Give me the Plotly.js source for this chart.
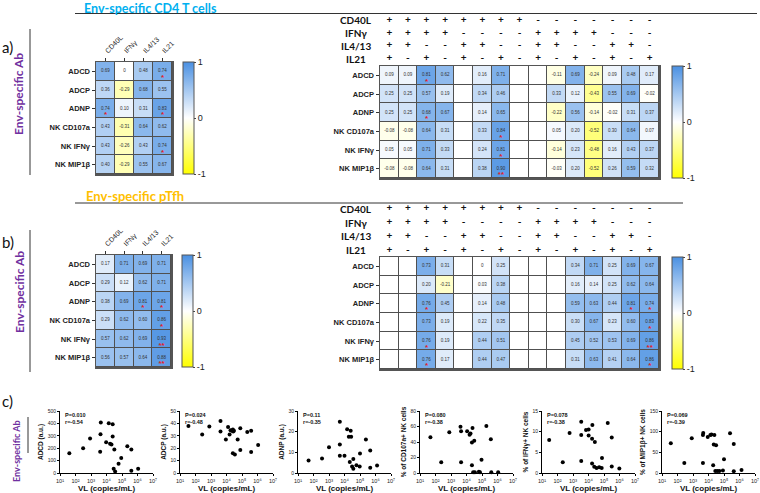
<!DOCTYPE html>
<html><head><meta charset="utf-8">
<script src="https://cdn.plot.ly/plotly-3.0.1.min.js"></script>
<style>html,body{margin:0;padding:0;background:#fff}#chart{width:760px;height:493px}</style>
</head><body><div id="chart"></div>
<script>
const W=760,H=493;
const px=v=>v/W, py=v=>1-v/H;

const abRows=["ADCD","ADCP","ADNP","NK CD107a","NK IFNγ","NK MIP1β"];
const rowIdx=[0,1,2,3,4,5];
const cytokines=["CD40L","IFNγ","IL4/13","IL21"];
const signCD40L=["+","+","+","+","+","+","+","+","-","-","-","-","-","-","-"];
const signIFNg =["+","+","+","+","-","-","-","-","+","+","+","+","-","-","-"];
const signIL413=["+","+","-","-","+","+","-","-","+","+","-","-","+","+","-"];
const signIL21 =["+","-","+","-","+","-","+","-","+","-","+","-","+","-","+"];
const comboIdx=[0,1,2,3,4,5,6,7,8,9,10,11,12,13,14];

// a) Env-specific CD4 T cells
const cd4Single=[[0.69,0,0.48,0.74],[0.36,-0.29,0.68,0.55],[0.74,0.10,0.31,0.83],[0.43,-0.31,0.64,0.62],[0.43,-0.26,0.43,0.74],[0.40,-0.29,0.55,0.67]];
const cd4SingleSig=[[0,0,0,1],[0,0,0,0],[1,0,0,1],[0,0,0,0],[0,0,0,1],[0,0,0,0]];
const cd4Combo=[
 [0.09,0.09,0.81,0.62,null,0.16,0.71,null,null,-0.11,0.69,-0.24,0.09,0.48,0.17],
 [0.25,0.25,0.57,0.19,null,0.34,0.46,null,null,0.33,0.12,-0.43,0.55,0.69,-0.02],
 [0.25,0.25,0.68,0.67,null,0.14,0.65,null,null,-0.22,0.56,-0.14,-0.02,0.31,0.37],
 [-0.08,-0.08,0.64,0.31,null,0.33,0.84,null,null,0.05,0.20,-0.52,0.30,0.64,0.07],
 [0.05,0.05,0.71,0.33,null,0.24,0.81,null,null,-0.14,0.23,-0.48,0.16,0.43,0.37],
 [-0.08,-0.08,0.64,0.31,null,0.38,0.90,null,null,-0.03,0.20,-0.52,0.26,0.59,0.32]];
const cd4ComboSig=[
 [0,0,1,0,0,0,0,0,0,0,0,0,0,0,0],
 [0,0,0,0,0,0,0,0,0,0,0,0,0,0,0],
 [0,0,1,0,0,0,0,0,0,0,0,0,0,0,0],
 [0,0,0,0,0,0,1,0,0,0,0,0,0,0,0],
 [0,0,0,0,0,0,1,0,0,0,0,0,0,0,0],
 [0,0,0,0,0,0,2,0,0,0,0,0,0,0,0]];

// b) Env-specific pTfh
const tfhSingle=[[0.17,0.71,0.69,0.71],[0.29,0.12,0.62,0.71],[0.38,0.69,0.81,0.81],[0.29,0.62,0.60,0.86],[0.57,0.62,0.69,0.93],[0.56,0.57,0.64,0.88]];
const tfhSingleSig=[[0,0,0,0],[0,0,0,0],[0,0,1,1],[0,0,0,1],[0,0,0,2],[0,0,0,2]];
const tfhCombo=[
 [null,null,0.73,0.31,null,0,0.25,null,null,null,0.34,0.71,0.25,0.69,0.67],
 [null,null,0.20,-0.21,null,0.03,0.38,null,null,null,0.16,0.14,0.25,0.62,0.64],
 [null,null,0.76,0.45,null,0.14,0.48,null,null,null,0.59,0.63,0.44,0.81,0.74],
 [null,null,0.73,0.19,null,0.22,0.35,null,null,null,0.30,0.67,0.23,0.60,0.83],
 [null,null,0.76,0.19,null,0.44,0.51,null,null,null,0.45,0.52,0.53,0.69,0.86],
 [null,null,0.76,0.17,null,0.44,0.47,null,null,null,0.31,0.63,0.41,0.64,0.86]];
const tfhComboSig=[
 [0,0,0,0,0,0,0,0,0,0,0,0,0,0,0],
 [0,0,0,0,0,0,0,0,0,0,0,0,0,0,0],
 [0,0,1,0,0,0,0,0,0,0,0,0,0,1,1],
 [0,0,0,0,0,0,0,0,0,0,0,0,0,0,1],
 [0,0,1,0,0,0,0,0,0,0,0,0,0,0,2],
 [0,0,1,0,0,0,0,0,0,0,0,0,0,0,1]];

// c) scatter: VL (copies/mL) vs Ab function
const scatterTitles=["ADCD (a.u.)","ADCP (a.u.)","ADNP (a.u.)","% of CD107a+ NK cells","% of IFNγ+ NK cells","% of MIP1β+ NK cells"];
const scatterStats=["P=0.010<br>r=-0.54","P=0.024<br>r=-0.48","P=0.11<br>r=-0.35","P=0.080<br>r=-0.38","P=0.078<br>r=-0.38","P=0.069<br>r=-0.39"];
const vlADCD=[40,310,870,4300,4100,3900,9500,14000,17000,21000,25000,25000,32000,29000,36000,60000,89000,220000,400000,400000,1100000];
const yADCD=[160,200,278,408,312,172,248,402,235,230,393,295,190,35,12,75,120,215,190,18,35];
const vlADCP=[35,270,780,4100,4100,9100,12600,15800,18200,22400,25700,26900,30200,25700,34700,52500,77600,77600,219000,389000,389000,1100000];
const yADCP=[38,31,37.5,42,33.5,27,37,31,34.5,34,35,33.5,34,16,15,27,18.5,36,33,34,17,22.5];
const vlADNP=[48,355,1000,5000,5000,5000,10000,14800,19000,25100,26900,21900,30900,37200,37200,58900,95500,100000,240000,457000,457000,1260000];
const yADNP=[6.0,7.0,12.5,24.8,13.8,8.4,8.4,21.2,17.5,20.4,17.5,5.3,3.1,2.1,6.8,3.7,3.2,9.4,16.2,10.9,2.6,3.6];
const vlCD107a=[47,234,776,4100,4470,4470,11000,15800,18200,22400,24500,31600,22400,26900,34700,63100,74100,93300,191000,372000,398000,1100000];
const yCD107a=[46,13.8,52.5,59.7,54,13.8,54,49.4,51,39.4,58,41.5,10,1,1,1.5,1,17,60.6,43.7,1,1];
const vlIFNg=[29,219,603,3390,3390,3390,6920,10200,10200,17800,17000,25700,17000,23400,33100,49000,70800,74100,174000,316000,316000,977000];
const yIFNg=[8.0,2.6,9.7,12.4,9.2,2.9,10.4,10.5,9.1,11.6,8.3,7.5,2.3,1.5,1.2,1.4,1.2,3.6,12.1,8.6,1.6,1.1];
const vlMIP1b=[37,275,832,4570,4370,4370,8910,13200,15500,24000,21900,30900,20000,27500,37200,50100,85100,100000,245000,427000,427000,1350000];
const yMIP1b=[72,24,84,97,92,24,87,92,93,92,69,67,19,5,5,5,6,33,96,70,4,7];
const scatterX=[vlADCD,vlADCP,vlADNP,vlCD107a,vlIFNg,vlMIP1b];
const scatterY=[yADCD,yADCP,yADNP,yCD107a,yIFNg,yMIP1b];
const scatterMax=[500,50,30,80,15,150];
const scatterDtick=[100,10,10,20,5,50];
const vlTickVals=[1e1,1e2,1e3,1e4,1e5,1e6,1e7];
const vlTickText=["10¹","10²","10³","10⁴","10⁵","10⁶","10⁷"];

const colorscale=[[0,'#ffff00'],[0.5,'#ffffff'],[1,'#4a90e2']];
const GRID='#505050';
const LAB='Liberation Sans, Arial, sans-serif';
const CAL='Lato, Open Sans, sans-serif';
const STAR_DY=0.36; // vertical offset of asterisks inside a cell (in rows)

function fmt(v){return v===0?'0':v.toFixed(2);}
function heatTraces(z,sig,xs,xa,ya,cb){
  const base={type:'heatmap',x:xs,y:rowIdx,xaxis:xa,yaxis:ya,showscale:false,hoverinfo:'skip'};
  const zeros=z.map(r=>r.map(()=>0));
  const dark=Object.assign({},base,{z:zeros,colorscale:[[0,GRID],[1,GRID]],zmin:0,zmax:1});
  const white=Object.assign({},base,{z:zeros,colorscale:[[0,'#ffffff'],[1,'#ffffff']],zmin:0,zmax:1,xgap:1,ygap:1});
  const data={type:'heatmap',x:xs,y:rowIdx,z:z,xaxis:xa,yaxis:ya,zmin:-1,zmax:1,colorscale:colorscale,
    xgap:1,ygap:1,hoverongaps:false,showscale:true,colorbar:cb};
  const nx=[],ny=[],nt=[],sx=[],sy=[],st=[];
  z.forEach((row,i)=>row.forEach((v,j)=>{
    if(v===null) return;
    nx.push(xs[j]);ny.push(rowIdx[i]);nt.push(fmt(v));
    if(sig[i][j]){sx.push(xs[j]);sy.push(rowIdx[i]+STAR_DY);st.push('*'.repeat(sig[i][j]));}
  }));
  const nums={type:'scatter',mode:'text',x:nx,y:ny,text:nt,xaxis:xa,yaxis:ya,textposition:'middle center',
    textfont:{size:4.5,color:'#333',family:LAB},hoverinfo:'skip',showlegend:false,cliponaxis:false};
  const stars={type:'scatter',mode:'text',x:sx,y:sy,text:st,xaxis:xa,yaxis:ya,textposition:'middle center',
    textfont:{size:8,color:'#e32129',family:LAB,weight:'bold'},hoverinfo:'skip',showlegend:false,cliponaxis:false};
  return [dark,white,data,nums,stars];
}
function cbar(left,top){
  return {x:px(left),xanchor:'left',y:py(top),yanchor:'top',len:112,lenmode:'pixels',thickness:11,thicknessmode:'pixels',
    outlinewidth:1,outlinecolor:'#555',tickvals:[-1,0,1],ticktext:['-1','0','1'],ticks:'outside',ticklen:2,
    tickfont:{size:9,family:LAB,color:'#222'},xpad:0,ypad:0};
}
function headerTrace(xa,ya){
  const signs=[signCD40L,signIFNg,signIL413,signIL21];
  const xs=[],ys=[],ts=[];
  signs.forEach((row,r)=>row.forEach((s,c)=>{xs.push(comboIdx[c]);ys.push(r);ts.push(s);}));
  return {type:'scatter',mode:'text',x:xs,y:ys,text:ts,xaxis:xa,yaxis:ya,cliponaxis:false,hoverinfo:'skip',
    textfont:{size:10,family:CAL,color:'#111',weight:'bold'},showlegend:false};
}

const traces=[];
traces.push(...heatTraces(cd4Single,cd4SingleSig,cytokines,'x','y',cbar(183,62)));
traces.push(...heatTraces(cd4Combo,cd4ComboSig,comboIdx,'x2','y2',cbar(672,66)));
traces.push(headerTrace('x3','y3'));
traces.push(...heatTraces(tfhSingle,tfhSingleSig,cytokines,'x4','y4',cbar(182,255)));
traces.push(...heatTraces(tfhCombo,tfhComboSig,comboIdx,'x5','y5',cbar(672,257)));
traces.push(headerTrace('x6','y6'));
for(let i=0;i<6;i++){
  traces.push({type:'scatter',mode:'markers',x:scatterX[i],y:scatterY[i],xaxis:'x'+(7+i),yaxis:'y'+(7+i),
    marker:{color:'#000',size:4},hoverinfo:'x+y',showlegend:false,cliponaxis:false});
}

const layout={width:W,height:H,margin:{l:0,r:0,t:0,b:0},paper_bgcolor:'#fff',plot_bgcolor:'rgba(0,0,0,0)',
  showlegend:false,font:{family:LAB,color:'#222'},annotations:[],shapes:[]};

function rowAxis(xn,yn,y0,y1){
  return {domain:[py(y1),py(y0)],anchor:'x'+xn,range:[5.5,-0.5],tickvals:rowIdx,ticktext:abRows,ticks:'outside',ticklen:3,tickcolor:'#333',
    tickfont:{size:7.5,family:LAB,color:'#222',weight:'bold'},showline:true,mirror:true,linecolor:'#555',linewidth:1.5,showgrid:false,zeroline:false,fixedrange:true};
}
function leftHeatAxes(xn,yn,x0,x1,y0,y1){
  layout['xaxis'+xn]={domain:[px(x0),px(x1)],anchor:'y'+yn,side:'top',tickangle:-45,ticks:'outside',ticklen:3,tickcolor:'#333',
    tickfont:{size:7,family:LAB,color:'#222'},showline:true,mirror:true,linecolor:'#555',linewidth:1.5,showgrid:false,zeroline:false,fixedrange:true};
  layout['yaxis'+yn]=rowAxis(xn,yn,y0,y1);
}
function rightHeatAxes(xn,yn,hx,hy,y0,y1,h0,h1){
  layout['xaxis'+xn]={domain:[px(380),px(659)],anchor:'y'+yn,range:[-0.5,14.5],showticklabels:false,ticks:'',
    showline:true,mirror:true,linecolor:'#555',linewidth:1.5,showgrid:false,zeroline:false,fixedrange:true};
  layout['yaxis'+yn]=rowAxis(xn,yn,y0,y1);
  layout['xaxis'+hx]={domain:[px(380),px(659)],anchor:'y'+hy,range:[-0.5,14.5],visible:false,fixedrange:true};
  layout['yaxis'+hy]={domain:[py(h1),py(h0)],anchor:'x'+hx,range:[3.5,-0.5],visible:false,fixedrange:true};
  cytokines.forEach((c,r)=>layout.annotations.push({text:c,x:px(356),xref:'paper',y:r,yref:'y'+hy,showarrow:false,
    xanchor:'center',yanchor:'middle',font:{size:10,family:CAL,color:'#111',weight:'bold'}}));
}
leftHeatAxes('','',96,172,62,174);
rightHeatAxes(2,2,3,3,66,178,14,65);
leftHeatAxes(4,4,96,171,255,367);
rightHeatAxes(5,5,6,6,257,369,202,257);

const scatterLeft=[60,180,298,420,542,662];
for(let i=0;i<6;i++){
  const n=7+i;
  layout['xaxis'+n]={domain:[px(scatterLeft[i]),px(scatterLeft[i]+93)],anchor:'y'+n,type:'log',range:[1,7],
    tickvals:vlTickVals,ticktext:vlTickText,ticks:'outside',ticklen:2,tickcolor:'#000',tickfont:{size:5.5,family:LAB,color:'#222'},
    showline:true,linecolor:'#000',linewidth:1,showgrid:false,zeroline:false,fixedrange:true,
    title:{text:'VL (copies/mL)',font:{size:8,family:LAB,color:'#111',weight:'bold'},standoff:2}};
  layout['yaxis'+n]={domain:[py(473),py(411)],anchor:'x'+n,range:[0,scatterMax[i]],dtick:scatterDtick[i],ticks:'outside',ticklen:2,tickcolor:'#000',
    tickfont:{size:5,family:LAB,color:'#222'},showline:true,linecolor:'#000',linewidth:1,showgrid:false,zeroline:false,fixedrange:true,
    title:{text:scatterTitles[i],font:{size:6.5,family:LAB,color:'#111',weight:'bold'},standoff:3}};
  layout.annotations.push({text:scatterStats[i],x:px(scatterLeft[i]+3),xref:'paper',y:py(410),yref:'paper',xanchor:'left',yanchor:'top',
    align:'left',showarrow:false,font:{size:5.5,family:LAB,color:'#111',weight:'bold'}});
}

const ann=(t,x,y,o)=>layout.annotations.push(Object.assign({text:t,x:px(x),y:py(y),xref:'paper',yref:'paper',showarrow:false,xanchor:'center',yanchor:'middle'},o));
ann('a)',0,47,{xanchor:'left',font:{size:15,family:CAL,color:'#111'}});
ann('b)',0,242,{xanchor:'left',font:{size:15,family:CAL,color:'#111'}});
ann('c)',0,401,{xanchor:'left',font:{size:15,family:CAL,color:'#111'}});
ann('Env-specific CD4 T cells',83,0,{xanchor:'left',yanchor:'top',borderpad:0,font:{size:12.5,family:CAL,color:'#00b0f0',weight:'bold'}});
ann('Env-specific pTfh',84,196,{xanchor:'left',font:{size:13,family:CAL,color:'#ffc000',weight:'bold'}});
ann('Env-specific Ab',19,94,{textangle:-90,font:{size:12,family:CAL,color:'#7030a0',weight:'bold'}});
ann('Env-specific Ab',19,292,{textangle:-90,font:{size:12,family:CAL,color:'#7030a0',weight:'bold'}});
ann('Env-specific Ab',16,451,{textangle:-90,font:{size:9,family:CAL,color:'#7030a0',weight:'bold'}});

const line=(x0,y0,x1,y1)=>layout.shapes.push({type:'line',xref:'paper',yref:'paper',x0:px(x0),y0:py(y0),x1:px(x1),y1:py(y1),line:{color:'#333',width:1}});
line(75,13.5,757,13.5);
line(75,203,683,203);
line(30,29,30,175);
line(30,230,30,372);
line(28,417,28,453);

Plotly.newPlot('chart',traces,layout,{staticPlot:true,displayModeBar:false});
</script></body></html>
